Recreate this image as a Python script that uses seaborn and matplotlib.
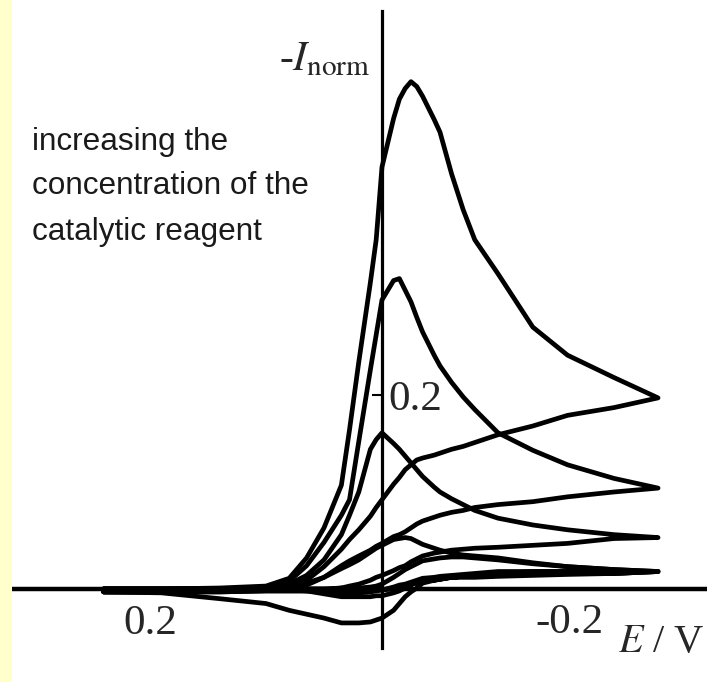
import pandas as pd
import matplotlib
matplotlib.use("Agg")
import matplotlib.pyplot as plt
import seaborn as sns
from matplotlib.patches import Rectangle

# potential grid (V); forward sweep runs from positive to negative potentials
E = [0.24, 0.19, 0.14, 0.10, 0.08, 0.065, 0.05, 0.035, 0.028, 0.02, 0.01, 0.005, 0.0,
     -0.01, -0.015, -0.02, -0.025, -0.03, -0.035, -0.045, -0.05, -0.06, -0.07, -0.08,
     -0.10, -0.13, -0.16, -0.20, -0.238]

# normalised current (-I_norm), forward and reverse sweeps, one pair per concentration
fwd_1 = [0, 0, 0, 0, 0, 0, 0, 0, 0, 0, -0.001, -0.001, -0.001, 0, 0.001, 0.003, 0.005,
         0.006, 0.008, 0.009, 0.010, 0.012, 0.013, 0.014, 0.016, 0.018, 0.018, 0.018, 0.018]
rev_1 = [-0.003, -0.004, -0.010, -0.015, -0.022, -0.026, -0.030, -0.035, -0.035, -0.035,
         -0.034, -0.032, -0.030, -0.022, -0.015, -0.008, -0.003, 0.001, 0.006, 0.009,
         0.010, 0.012, 0.012, 0.012, 0.013, 0.014, 0.015, 0.016, 0.018]

fwd_2 = [0, 0, 0, 0, 0, 0, 0, 0.001, 0.001, 0.001, 0.002, 0.003, 0.005, 0.012, 0.016,
         0.020, 0.023, 0.026, 0.029, 0.031, 0.032, 0.033, 0.033, 0.032, 0.030, 0.026,
         0.023, 0.020, 0.018]
rev_2 = [-0.003, -0.003, -0.002, -0.001, -0.001, -0.002, -0.005, -0.008, -0.008, -0.008,
         -0.008, -0.007, -0.007, -0.004, -0.002, 0.001, 0.004, 0.007, 0.010, 0.011,
         0.012, 0.013, 0.013, 0.014, 0.015, 0.015, 0.016, 0.016, 0.018]

fwd_3 = [0, 0, 0, 0, 0.002, 0.006, 0.012, 0.021, 0.025, 0.030, 0.038, 0.042, 0.045,
         0.051, 0.052, 0.053, 0.052, 0.049, 0.046, 0.042, 0.040, 0.037, 0.035, 0.034,
         0.032, 0.027, 0.023, 0.020, 0.018]
rev_3 = [-0.003, -0.003, -0.003, -0.002, -0.002, -0.002, -0.003, -0.004, -0.004, -0.004,
         -0.003, -0.002, -0.001, 0.002, 0.004, 0.005, 0.007, 0.009, 0.011, 0.012,
         0.013, 0.014, 0.015, 0.016, 0.018, 0.018, 0.018, 0.016, 0.018]

fwd_4 = [0, 0, 0, 0.001, 0.005, 0.014, 0.030, 0.056, 0.076, 0.100, 0.144, 0.154, 0.161,
         0.150, 0.144, 0.137, 0.130, 0.123, 0.116, 0.105, 0.100, 0.093, 0.087, 0.081,
         0.073, 0.066, 0.061, 0.056, 0.053]
rev_4 = [-0.003, -0.003, -0.003, -0.002, -0.002, -0.002, -0.001, 0.001, 0.003, 0.005,
         0.009, 0.012, 0.014, 0.019, 0.022, 0.024, 0.028, 0.031, 0.034, 0.037, 0.038,
         0.040, 0.041, 0.042, 0.043, 0.045, 0.047, 0.052, 0.053]

fwd_5 = [0, 0, 0, 0.001, 0.008, 0.024, 0.048, 0.076, 0.092, 0.152, 0.226, 0.262, 0.298,
         0.318, 0.320, 0.308, 0.296, 0.280, 0.265, 0.241, 0.230, 0.213, 0.198, 0.185,
         0.161, 0.143, 0.128, 0.114, 0.104]
rev_5 = [-0.003, -0.003, -0.002, -0.001, 0.001, 0.004, 0.012, 0.024, 0.029, 0.034,
         0.040, 0.044, 0.047, 0.054, 0.056, 0.059, 0.063, 0.067, 0.070, 0.074, 0.076,
         0.079, 0.081, 0.084, 0.087, 0.090, 0.095, 0.100, 0.104]

fwd_6 = [0, 0, 0.001, 0.003, 0.011, 0.032, 0.063, 0.107, 0.164, 0.234, 0.316, 0.360,
         0.435, 0.485, 0.505, 0.516, 0.523, 0.518, 0.508, 0.484, 0.471, 0.428, 0.391,
         0.360, 0.325, 0.270, 0.241, 0.218, 0.197]
rev_6 = [-0.002, -0.002, -0.001, 0, 0.003, 0.009, 0.023, 0.041, 0.051, 0.061, 0.075,
         0.084, 0.092, 0.108, 0.115, 0.123, 0.128, 0.133, 0.135, 0.138, 0.140, 0.144,
         0.147, 0.151, 0.159, 0.168, 0.179, 0.187, 0.197]

curves = {
    "c1": (fwd_1, rev_1),
    "c2": (fwd_2, rev_2),
    "c3": (fwd_3, rev_3),
    "c4": (fwd_4, rev_4),
    "c5": (fwd_5, rev_5),
    "c6": (fwd_6, rev_6),
}

rows = []
for name, (fwd, rev) in curves.items():
    for e, i in zip(E, fwd):
        rows.append((name, e, i))
    for e, i in zip(E[::-1], rev[::-1]):
        rows.append((name, e, i))
df = pd.DataFrame(rows, columns=["curve", "E", "I"])

sns.set_style("white")
plt.rcParams["font.family"] = ["Liberation Serif", "DejaVu Serif"]
plt.rcParams["mathtext.fontset"] = "stix"

fig = plt.figure(figsize=(7.07, 6.82), dpi=100)
ax = fig.add_axes([0, 0, 1, 1])
ax.set_facecolor("none")
fig.patches.append(Rectangle((0, 0), 12 / 707, 1, transform=fig.transFigure,
                             facecolor="#FFFFCC", edgecolor="none", zorder=0))

sns.lineplot(data=df, x="E", y="I", hue="curve", palette=["black"] * len(curves),
             sort=False, estimator=None, legend=False, lw=3.4, ax=ax)
for ln in ax.lines:
    ln.set_solid_joinstyle("round")
    ln.set_solid_capstyle("round")

ax.set_xlim(0.3293, -0.2802)
ax.set_ylim(-0.0959, 0.6072)
ax.set_xlabel("")
ax.set_ylabel("")

# axes crossing at the origin
for s in ["top", "right"]:
    ax.spines[s].set_visible(False)
ax.spines["left"].set_position(("data", 0))
ax.spines["left"].set_bounds(-0.0608, 0.5959)
ax.spines["left"].set_linewidth(2.3)
ax.spines["bottom"].set_position(("data", 0))
ax.spines["bottom"].set_bounds(-0.2802, 0.3172)
ax.spines["bottom"].set_linewidth(3.2)
for s in ["left", "bottom"]:
    ax.spines[s].set_color("black")

ax.set_xticks([])
ax.set_yticks([0.2])
ax.set_yticklabels([""])
ax.tick_params(axis="y", left=True, direction="out", length=7, width=1.5, color="black")

# tick labels and axis titles
ax.text(0.2, -0.0464, "0.2", ha="center", va="baseline", fontsize=31)
ax.text(-0.1612, -0.0454, "-0.2", ha="center", va="baseline", fontsize=31)
ax.text(-0.0052, 0.1845, "0.2", ha="left", va="baseline", fontsize=31)
ax.text(0.0103, 0.535, r"-$I_{\mathrm{norm}}$", ha="right", va="baseline", fontsize=30)
ax.text(-0.2034, -0.065, r"$E$ / V", ha="left", va="baseline", fontsize=29)

note = ["increasing the", "concentration of the", "catalytic reagent"]
for k, line in enumerate(note):
    ax.text(0.3017, [0.4526, 0.4072, 0.3598][k], line, ha="left", va="baseline",
            fontsize=22.7, color="#1a1a1a", family=["Liberation Sans", "DejaVu Sans"])

fig.savefig("out.png", dpi=100)
